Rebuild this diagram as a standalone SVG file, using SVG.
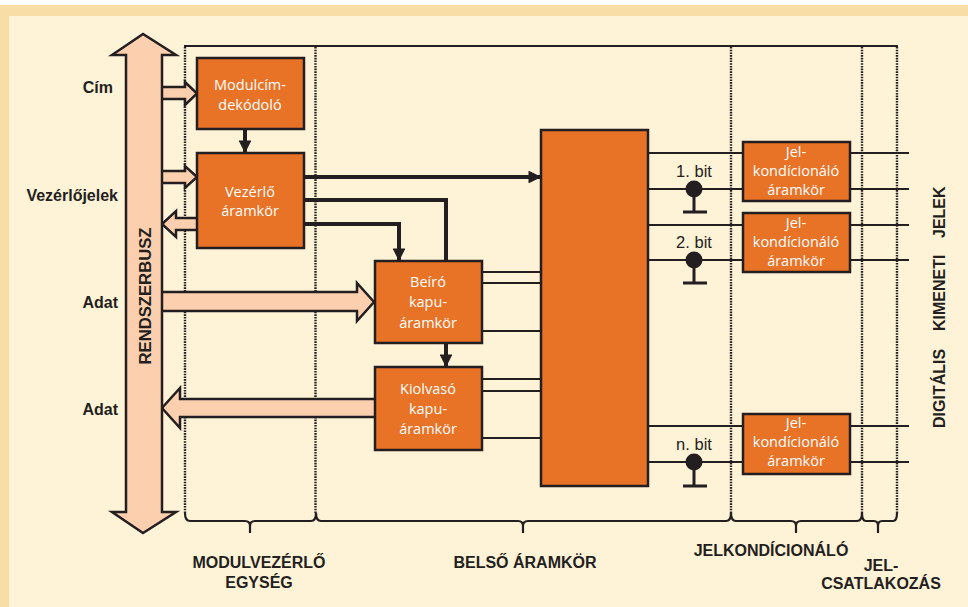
<svg xmlns="http://www.w3.org/2000/svg" width="968" height="607" viewBox="0 0 968 607">
<defs>
<style>
.blk{fill:#E87226;stroke:#231F20;stroke-width:2.5}
.bt{font-family:"Open Sans","Liberation Sans",sans-serif;font-size:14.5px;fill:#FFFFFF;text-anchor:middle}
.lb{font-family:"Liberation Sans",Arial,sans-serif;font-weight:bold;font-size:16px;fill:#231F20}
.bit{font-family:"Liberation Sans",Arial,sans-serif;font-size:16.5px;fill:#231F20;text-anchor:middle}
.bus{fill:#FCCFAE;stroke:#231F20;stroke-width:2.5;stroke-linejoin:miter}
.dot{fill:none;stroke:#231F20;stroke-width:2.4;stroke-dasharray:1.6 1.1}
.sol{fill:none;stroke:#231F20;stroke-width:2.2}
.thk{fill:none;stroke:#231F20;stroke-width:4}
.thn{fill:none;stroke:#231F20;stroke-width:2.2}
</style>
<marker id="ah" viewBox="0 0 10 10" refX="9" refY="5" markerWidth="3.2" markerHeight="3.2" markerUnits="strokeWidth" orient="auto">
<path d="M0,0 L10,5 L0,10 z" fill="#231F20"/>
</marker>
</defs>
<rect x="0" y="0" width="968" height="607" fill="#FFFFFF"/>
<rect x="0" y="5" width="968" height="602" fill="#F8DEA6"/>
<rect x="9" y="16" width="959" height="591" fill="#FEF2D7"/>

<g id="frame">
<line class="sol" x1="184" y1="46" x2="898" y2="46"/>
<line class="dot" x1="185" y1="47" x2="185" y2="514"/>
<line class="dot" x1="315.5" y1="47" x2="315.5" y2="514"/>
<line class="dot" x1="731" y1="47" x2="731" y2="514"/>
<line class="dot" x1="862" y1="47" x2="862" y2="514"/>
<line class="dot" x1="897" y1="47" x2="897" y2="514"/>
<path class="sol" d="M185,513 Q185,521 190,521 H245 Q250,521 250,526 V533 M250,526 Q250,521 255,521 H311 Q316,521 316,513"/>
<path class="sol" d="M316,513 Q316,521 321,521 H518 Q523,521 523,526 V533 M523,526 Q523,521 528,521 H726 Q731,521 731,513"/>
<path class="sol" d="M731,513 Q731,521 736,521 H791 Q796,521 796,526 V533 M796,526 Q796,521 801,521 H857 Q862,521 862,513"/>
<path class="sol" d="M862,513 Q862,521 866,521 H874 Q878,521 878,526 V533 M878,526 Q878,521 882,521 H893 Q897,521 897,513"/>
</g>

<g id="connectors">
<path class="bus" d="M162,87 H185 V82 L197,93.5 L185,105 V99 H162"/>
<path class="bus" d="M162,171 H185 V166 L197,177 L185,188 V183 H162"/>
<path class="bus" d="M197,218 H176 V211 L162,224 L176,237 V230 H197"/>
<path class="bus" d="M162,292 H357 V283 L374,302 L357,321 V311 H162"/>
<path class="bus" d="M375,399 H180 V388 L162,408 L180,428 V417 H375"/>
<line class="thk" x1="245" y1="129" x2="245" y2="152" marker-end="url(#ah)"/>
<line class="thk" x1="304" y1="177" x2="540" y2="177" marker-end="url(#ah)"/>
<path class="thk" d="M304,200 H446 V261"/>
<path class="thk" d="M304,224 H399 V260" marker-end="url(#ah)"/>
<line class="thk" x1="446" y1="343" x2="446" y2="366" marker-end="url(#ah)"/>
<line class="thn" x1="482" y1="272" x2="541" y2="272"/>
<line class="thn" x1="482" y1="283" x2="541" y2="283"/>
<line class="thn" x1="482" y1="331" x2="541" y2="331"/>
<line class="thn" x1="482" y1="379" x2="541" y2="379"/>
<line class="thn" x1="482" y1="391" x2="541" y2="391"/>
<line class="thn" x1="482" y1="438" x2="541" y2="438"/>
<line class="thn" x1="648" y1="153" x2="909" y2="153"/>
<line class="thn" x1="648" y1="189" x2="909" y2="189"/>
<line class="thn" x1="648" y1="225" x2="909" y2="225"/>
<line class="thn" x1="648" y1="260" x2="909" y2="260"/>
<line class="thn" x1="648" y1="426" x2="909" y2="426"/>
<line class="thn" x1="648" y1="462" x2="909" y2="462"/>
</g>

<g id="bus">
<path class="bus" d="M143,34 L112,55 H126 V512 H112 L143,533 L176,512 H162 V55 H176 Z"/>
<text class="lb" transform="translate(151,296) rotate(-90)" text-anchor="middle" textLength="137" lengthAdjust="spacingAndGlyphs">RENDSZERBUSZ</text>
</g>

<g id="labels">
<text class="lb" x="113" y="93" text-anchor="end">Cím</text>
<text class="lb" x="118" y="201" text-anchor="end">Vezérlőjelek</text>
<text class="lb" x="118" y="308" text-anchor="end">Adat</text>
<text class="lb" x="118" y="415" text-anchor="end">Adat</text>
<text class="lb" x="259" y="568" text-anchor="middle">MODULVEZÉRLŐ</text>
<text class="lb" x="259" y="588" text-anchor="middle">EGYSÉG</text>
<text class="lb" x="525" y="568" text-anchor="middle">BELSŐ ÁRAMKÖR</text>
<text class="lb" x="771" y="556" text-anchor="middle">JELKONDÍCIONÁLÓ</text>
<text class="lb" x="881" y="571" text-anchor="middle">JEL-</text>
<text class="lb" x="881" y="589" text-anchor="middle">CSATLAKOZÁS</text>
<text class="lb" transform="translate(945,428) rotate(-90)"><tspan x="0">DIGITÁLIS</tspan><tspan x="97">KIMENETI</tspan><tspan x="190">JELEK</tspan></text>
</g>

<g id="modulcim">
<rect class="blk" x="197" y="58" width="107" height="71"/>
<text class="bt" x="250" y="90">Modulcím-</text>
<text class="bt" x="250" y="110">dekódoló</text>
</g>
<g id="vezerlo">
<rect class="blk" x="197" y="153" width="107" height="95"/>
<text class="bt" x="250" y="197">Vezérlő</text>
<text class="bt" x="250" y="216">áramkör</text>
</g>
<g id="beiro">
<rect class="blk" x="375" y="261" width="107" height="82"/>
<text class="bt" x="428" y="287">Beíró</text>
<text class="bt" x="428" y="307">kapu-</text>
<text class="bt" x="428" y="328">áramkör</text>
</g>
<g id="kiolvaso">
<rect class="blk" x="375" y="367" width="107" height="83"/>
<text class="bt" x="428" y="394">Kiolvasó</text>
<text class="bt" x="428" y="414">kapu-</text>
<text class="bt" x="428" y="434">áramkör</text>
</g>
<g id="belso">
<rect class="blk" x="541" y="130" width="107" height="356"/>
</g>
<g id="jel1">
<rect class="blk" x="743" y="142" width="107" height="59"/>
<text class="bt" x="796" y="157">Jel-</text>
<text class="bt" x="796" y="176">kondícionáló</text>
<text class="bt" x="796" y="195">áramkör</text>
</g>
<g id="jel2">
<rect class="blk" x="743" y="213" width="107" height="59"/>
<text class="bt" x="796" y="228">Jel-</text>
<text class="bt" x="796" y="247">kondícionáló</text>
<text class="bt" x="796" y="266">áramkör</text>
</g>
<g id="jel3">
<rect class="blk" x="743" y="414" width="107" height="60"/>
<text class="bt" x="796" y="428">Jel-</text>
<text class="bt" x="796" y="447">kondícionáló</text>
<text class="bt" x="796" y="466">áramkör</text>
</g>

<g id="bit1">
<text class="bit" x="694" y="177">1. bit</text>
<line x1="694" y1="189" x2="694" y2="212" stroke="#231F20" stroke-width="3"/>
<line x1="683" y1="212" x2="707" y2="212" stroke="#231F20" stroke-width="3"/>
<circle cx="694" cy="189" r="8.5" fill="#231F20"/>
</g>
<g id="bit2">
<text class="bit" x="694" y="248">2. bit</text>
<line x1="694" y1="260" x2="694" y2="283" stroke="#231F20" stroke-width="3"/>
<line x1="683" y1="283" x2="707" y2="283" stroke="#231F20" stroke-width="3"/>
<circle cx="694" cy="260" r="8.5" fill="#231F20"/>
</g>
<g id="bitn">
<text class="bit" x="694" y="450">n. bit</text>
<line x1="694" y1="462" x2="694" y2="486" stroke="#231F20" stroke-width="3"/>
<line x1="683" y1="486" x2="707" y2="486" stroke="#231F20" stroke-width="3"/>
<circle cx="694" cy="462" r="8.5" fill="#231F20"/>
</g>
</svg>
